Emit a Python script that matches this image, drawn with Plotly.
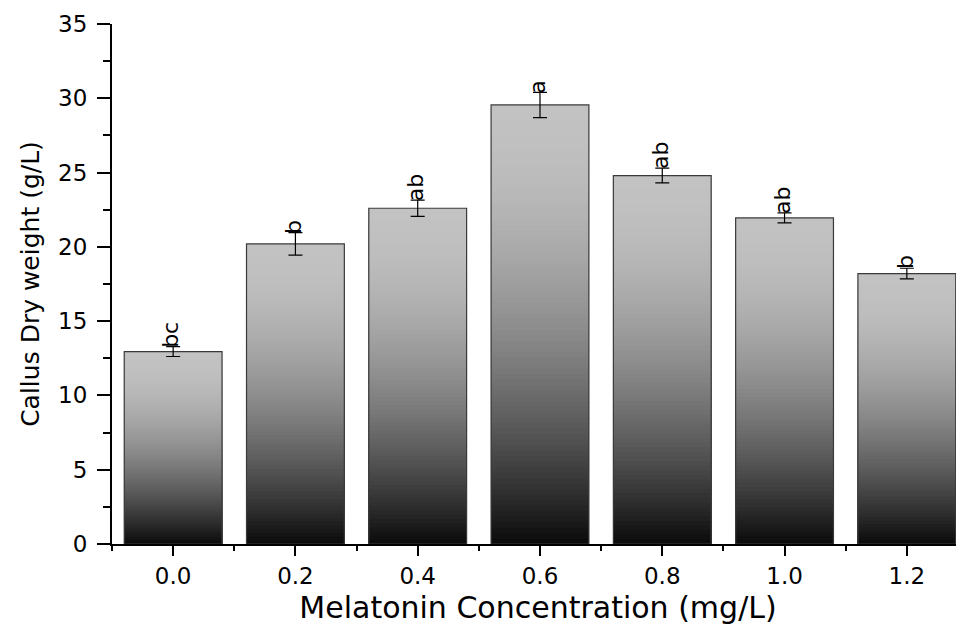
import plotly.graph_objects as go

categories = ["0.0", "0.2", "0.4", "0.6", "0.8", "1.0", "1.2"]
dry_weight = [12.95, 20.2, 22.6, 29.55, 24.8, 21.95, 18.2]
errors = [0.33, 0.76, 0.55, 0.85, 0.5, 0.34, 0.36]
letters = ["bc", "b", "ab", "a", "ab", "ab", "b"]
y_ticks = [0, 5, 10, 15, 20, 25, 30, 35]

FONT = "DejaVu Sans"
x_idx = list(range(len(categories)))
N = 80
top_gray, bottom_gray = 194, 12

fig = go.Figure()

# vertical gradient: overlapping bars, each shorter and darker than the last
for i in range(N):
    frac = (N - i) / N
    t = i / (N - 1)  # 0 at top of bar, 1 at bottom
    g = round(top_gray - (top_gray - bottom_gray) * t ** 1.8)
    fig.add_trace(go.Bar(
        x=x_idx, y=[v * frac for v in dry_weight], width=0.8,
        marker=dict(color=f"rgb({g},{g},{g})", line=dict(width=0)),
        hoverinfo="skip", showlegend=False,
    ))

# outline + error bars
fig.add_trace(go.Bar(
    x=x_idx, y=dry_weight, width=0.8,
    marker=dict(color="rgba(0,0,0,0)", line=dict(color="#3a3a3a", width=1.2)),
    error_y=dict(type="data", array=errors, visible=True, color="black",
                 thickness=1.2, width=7),
    showlegend=False, name="Callus Dry weight",
))

for xi, v, e, t in zip(x_idx, dry_weight, errors, letters):
    fig.add_annotation(x=xi, y=v + e, text=t, textangle=-90, showarrow=False,
                       xanchor="center", yanchor="bottom", yshift=-3, xshift=-2,
                       font=dict(family=FONT, size=22, color="black"))

fig.update_layout(
    width=956, height=617,
    barmode="overlay",
    bargap=0.2,
    plot_bgcolor="white", paper_bgcolor="white",
    margin=dict(l=104, r=0, t=16, b=81, autoexpand=False),
    font=dict(family=FONT, color="black"),
)

fig.update_xaxes(
    range=[-0.5, 6.4675],
    tickmode="array", tickvals=x_idx, ticktext=categories,
    ticks="outside", ticklen=10, tickwidth=2, tickcolor="black",
    showline=True, linecolor="black", linewidth=2,
    showgrid=False, zeroline=False,
    tickfont=dict(family=FONT, size=23, color="black"),
    minor=dict(tickmode="linear", tick0=0.5, dtick=1, ticks="outside",
               ticklen=5, tickwidth=2, tickcolor="black", showgrid=False),
    title=dict(text="Melatonin Concentration (mg/L)",
               font=dict(family=FONT, size=30, color="black"), standoff=16),
)

fig.update_yaxes(
    range=[0, 35],
    tickmode="array", tickvals=y_ticks,
    ticks="outside", ticklen=13, tickwidth=2, tickcolor="black",
    ticklabelstandoff=5,
    showline=True, linecolor="black", linewidth=2,
    showgrid=False, zeroline=False,
    tickfont=dict(family=FONT, size=23, color="black"),
    minor=dict(tickmode="linear", tick0=0, dtick=2.5, ticks="outside",
               ticklen=7, tickwidth=2, tickcolor="black", showgrid=False),
    title=dict(text="Callus Dry weight (g/L)",
               font=dict(family=FONT, size=25, color="black"), standoff=11),
)

fig.write_html("out.html")
